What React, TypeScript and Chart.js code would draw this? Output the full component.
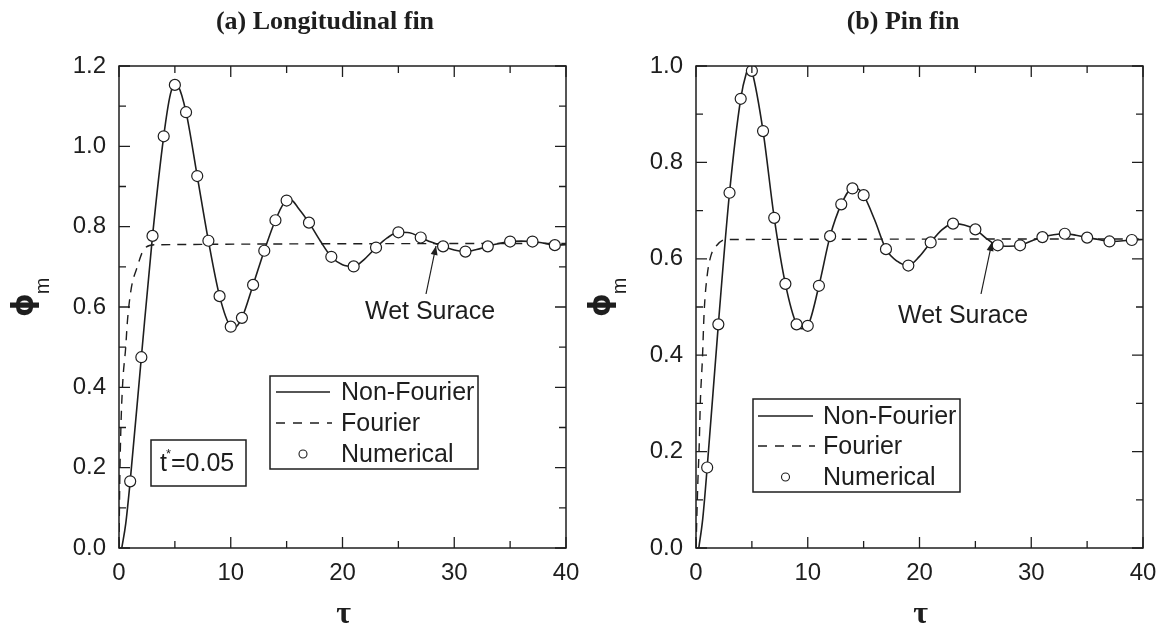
import React, { useEffect, useRef } from "react";
import { Chart, registerables } from "chart.js";

Chart.register(...registerables);

// ---------------- Data: (a) Longitudinal fin ----------------
const numTauA = [1, 2, 3, 4, 5, 6, 7, 8, 9, 10, 11, 12, 13, 14, 15, 17, 19, 21, 23, 25, 27, 29, 31, 33, 35, 37, 39];
const numPhiA = [0.166, 0.475, 0.777, 1.025, 1.153, 1.085, 0.926, 0.765, 0.627, 0.551, 0.573, 0.655, 0.74, 0.816, 0.865, 0.81, 0.725, 0.701, 0.748, 0.786, 0.773, 0.751, 0.738, 0.751, 0.763, 0.763, 0.754];

const nfTauA = [0.25, 0.6, 1, 2, 3, 4, 4.6, 5, 5.3, 6, 7, 8, 9, 10, 10.3, 11, 12, 13, 14, 15, 15.4, 16, 17, 18, 19, 20, 21, 22, 23, 24, 25, 26, 27, 28, 29, 30, 31, 32, 33, 34, 35, 36, 37, 38, 39, 40];
const nfPhiA = [0, 0.06, 0.166, 0.475, 0.777, 1.025, 1.13, 1.155, 1.15, 1.085, 0.926, 0.765, 0.627, 0.551, 0.548, 0.573, 0.655, 0.74, 0.816, 0.865, 0.866, 0.848, 0.81, 0.765, 0.725, 0.705, 0.701, 0.72, 0.748, 0.772, 0.786, 0.785, 0.773, 0.761, 0.751, 0.742, 0.738, 0.743, 0.751, 0.758, 0.763, 0.764, 0.763, 0.759, 0.754, 0.755];

const fTauA = [0, 0.07, 0.17, 0.33, 0.6, 0.76, 1.1, 1.6, 2.2, 3.2, 40];
const fPhiA = [0, 0.17, 0.3, 0.41, 0.5, 0.567, 0.647, 0.697, 0.742, 0.755, 0.758];

// ---------------- Data: (b) Pin fin ----------------
const numTauB = [1, 2, 3, 4, 5, 6, 7, 8, 9, 10, 11, 12, 13, 14, 15, 17, 19, 21, 23, 25, 27, 29, 31, 33, 35, 37, 39];
const numPhiB = [0.167, 0.464, 0.737, 0.932, 0.99, 0.865, 0.685, 0.548, 0.464, 0.461, 0.544, 0.647, 0.713, 0.746, 0.732, 0.62, 0.586, 0.634, 0.673, 0.661, 0.628, 0.628, 0.645, 0.652, 0.644, 0.636, 0.639];

const nfTauB = [0.25, 0.6, 1, 2, 3, 4, 4.5, 4.8, 5, 6, 7, 8, 9, 9.5, 10, 11, 12, 13, 14, 14.5, 15, 16, 17, 18, 19, 20, 21, 22, 23, 24, 25, 26, 27, 28, 29, 30, 31, 32, 33, 34, 35, 36, 37, 38, 39, 40];
const nfPhiB = [0, 0.06, 0.167, 0.464, 0.737, 0.932, 0.985, 1.0, 0.99, 0.865, 0.685, 0.548, 0.464, 0.455, 0.461, 0.544, 0.647, 0.713, 0.746, 0.745, 0.732, 0.68, 0.62, 0.595, 0.586, 0.605, 0.634, 0.66, 0.673, 0.67, 0.661, 0.642, 0.628, 0.626, 0.628, 0.637, 0.645, 0.65, 0.652, 0.649, 0.644, 0.64, 0.636, 0.637, 0.639, 0.64];

const fTauB = [0, 0.07, 0.17, 0.27, 0.4, 0.57, 0.73, 1.0, 1.33, 1.83, 2.67, 40];
const fPhiB = [0, 0.06, 0.14, 0.2, 0.31, 0.39, 0.49, 0.565, 0.606, 0.627, 0.64, 0.641];

// ---------------- Labels ----------------
const seriesLabels = ["Non-Fourier", "Fourier", "Numerical"];
const titleA = "(a) Longitudinal fin";
const titleB = "(b) Pin fin";
const annotationText = "Wet Surace";
const xTitle = "τ";
const yTitleMain = "ϕ";
const yTitleSub = "m";

const SANS = "'Liberation Sans', Arial, sans-serif";
const SERIF = "'Liberation Serif', 'Times New Roman', serif";
const INK = "#1e1e1e";
const H = 626;

function pts(xs: number[], ys: number[]) {
  return xs.map((x, i) => ({ x, y: ys[i] }));
}

type PanelCfg = {
  width: number;
  plotLeft: number;
  plotRight: number;
  plotTop: number;
  plotBottom: number;
  yMax: number;
  title: string;
  titleX: number;
  numTau: number[];
  numPhi: number[];
  nfTau: number[];
  nfPhi: number[];
  fTau: number[];
  fPhi: number[];
  legend: { x0: number; y0: number; x1: number; y1: number; rows: number[]; lx0: number; lx1: number; tx: number };
  wet: { tx: number; ty: number; ax0: number; ay0: number; ax1: number; ay1: number };
  tstar?: { x0: number; y0: number; x1: number; y1: number; tx: number };
};

const panelA: PanelCfg = {
  width: 582,
  plotLeft: 119,
  plotRight: 566,
  plotTop: 66,
  plotBottom: 548,
  yMax: 1.2,
  title: titleA,
  titleX: 325,
  numTau: numTauA,
  numPhi: numPhiA,
  nfTau: nfTauA,
  nfPhi: nfPhiA,
  fTau: fTauA,
  fPhi: fPhiA,
  legend: { x0: 270, y0: 376, x1: 478, y1: 469, rows: [392, 423, 454], lx0: 276, lx1: 330, tx: 341 },
  wet: { tx: 365, ty: 312, ax0: 426, ay0: 294, ax1: 436, ay1: 246 },
  tstar: { x0: 151, y0: 440, x1: 246, y1: 486, tx: 160 },
};

const panelB: PanelCfg = {
  width: 583,
  plotLeft: 114,
  plotRight: 561,
  plotTop: 66,
  plotBottom: 548,
  yMax: 1.0,
  title: titleB,
  titleX: 321,
  numTau: numTauB,
  numPhi: numPhiB,
  nfTau: nfTauB,
  nfPhi: nfPhiB,
  fTau: fTauB,
  fPhi: fPhiB,
  legend: { x0: 171, y0: 399, x1: 378, y1: 492, rows: [416, 446, 477], lx0: 176, lx1: 231, tx: 241 },
  wet: { tx: 316, ty: 316, ax0: 399, ay0: 294, ax1: 410, ay1: 242 },
};

function makeDecor(cfg: PanelCfg) {
  return {
    id: "decor",
    afterDraw(chart: any) {
      const ctx = chart.ctx as CanvasRenderingContext2D;
      const xs = chart.scales.x;
      const ys = chart.scales.y;
      const { left, right, top, bottom } = chart.chartArea;
      ctx.save();
      ctx.strokeStyle = INK;
      ctx.fillStyle = INK;
      // frame
      ctx.lineWidth = 1.5;
      ctx.strokeRect(left, top, right - left, bottom - top);
      // inward ticks
      ctx.lineWidth = 1.3;
      for (let v = 0; v <= 40; v += 5) {
        const px = xs.getPixelForValue(v);
        const len = v % 10 === 0 ? 11 : 7;
        ctx.beginPath();
        ctx.moveTo(px, bottom);
        ctx.lineTo(px, bottom - len);
        ctx.moveTo(px, top);
        ctx.lineTo(px, top + len);
        ctx.stroke();
      }
      for (let i = 0; i <= Math.round(cfg.yMax * 10); i++) {
        const v = i / 10;
        const py = ys.getPixelForValue(v);
        const len = i % 2 === 0 ? 11 : 7;
        ctx.beginPath();
        ctx.moveTo(left, py);
        ctx.lineTo(left + len, py);
        ctx.moveTo(right, py);
        ctx.lineTo(right - len, py);
        ctx.stroke();
      }
      // title
      ctx.font = `bold 26px ${SERIF}`;
      ctx.textAlign = "center";
      ctx.textBaseline = "middle";
      ctx.fillText(cfg.title, cfg.titleX, 22);
      // x title
      ctx.font = `bold 32px ${SERIF}`;
      ctx.fillText(xTitle, (left + right) / 2 + 1, 615);
      // y title (rotated)
      ctx.save();
      ctx.translate(left - 94, 305);
      ctx.rotate(-Math.PI / 2);
      ctx.font = `bold 30px 'DejaVu Sans', ${SANS}`;
      ctx.textAlign = "center";
      ctx.textBaseline = "middle";
      ctx.fillText(yTitleMain, 0, 0);
      ctx.font = `20px ${SANS}`;
      ctx.fillText(yTitleSub, 19, 18);
      ctx.restore();

      // legend
      const lg = cfg.legend;
      ctx.lineWidth = 1.5;
      ctx.strokeRect(lg.x0, lg.y0, lg.x1 - lg.x0, lg.y1 - lg.y0);
      ctx.font = `25px ${SANS}`;
      ctx.textAlign = "left";
      ctx.textBaseline = "middle";
      // solid
      ctx.lineWidth = 1.5;
      ctx.beginPath();
      ctx.moveTo(lg.lx0, lg.rows[0]);
      ctx.lineTo(lg.lx1, lg.rows[0]);
      ctx.stroke();
      // dashed
      ctx.setLineDash([9, 8]);
      ctx.beginPath();
      ctx.moveTo(lg.lx0, lg.rows[1]);
      ctx.lineTo(lg.lx1 + 2, lg.rows[1]);
      ctx.stroke();
      ctx.setLineDash([]);
      // marker
      ctx.lineWidth = 1.1;
      ctx.beginPath();
      ctx.arc((lg.lx0 + lg.lx1) / 2, lg.rows[2], 4, 0, Math.PI * 2);
      ctx.fillStyle = "#fff";
      ctx.fill();
      ctx.stroke();
      ctx.fillStyle = INK;
      for (let i = 0; i < 3; i++) ctx.fillText(seriesLabels[i], lg.tx, lg.rows[i] + 1);

      // Wet surface annotation
      const w = cfg.wet;
      ctx.fillText(annotationText, w.tx, w.ty);
      ctx.lineWidth = 1.2;
      ctx.beginPath();
      ctx.moveTo(w.ax0, w.ay0);
      ctx.lineTo(w.ax1, w.ay1);
      ctx.stroke();
      const ang = Math.atan2(w.ay1 - w.ay0, w.ax1 - w.ax0);
      const hl = 9;
      const hw = 3.5;
      ctx.beginPath();
      ctx.moveTo(w.ax1, w.ay1);
      ctx.lineTo(w.ax1 - hl * Math.cos(ang) + hw * Math.sin(ang), w.ay1 - hl * Math.sin(ang) - hw * Math.cos(ang));
      ctx.lineTo(w.ax1 - hl * Math.cos(ang) - hw * Math.sin(ang), w.ay1 - hl * Math.sin(ang) + hw * Math.cos(ang));
      ctx.closePath();
      ctx.fill();

      // t* box
      if (cfg.tstar) {
        const t = cfg.tstar;
        ctx.lineWidth = 1.5;
        ctx.strokeRect(t.x0, t.y0, t.x1 - t.x0, t.y1 - t.y0);
        const cy = (t.y0 + t.y1) / 2 + 1;
        ctx.font = `25px ${SANS}`;
        ctx.fillText("t", t.tx, cy);
        const tw = ctx.measureText("t").width;
        ctx.font = `13px ${SANS}`;
        ctx.fillText("*", t.tx + tw - 1, cy - 10);
        ctx.font = `25px ${SANS}`;
        ctx.fillText("=0.05", t.tx + tw + 4, cy);
      }
      ctx.restore();
    },
  };
}

function Panel({ cfg }: { cfg: PanelCfg }) {
  const ref = useRef<HTMLCanvasElement | null>(null);
  useEffect(() => {
    if (!ref.current) return;
    const chart = new Chart(ref.current, {
      type: "scatter",
      data: {
        datasets: [
          {
            label: seriesLabels[2],
            data: pts(cfg.numTau, cfg.numPhi),
            showLine: false,
            pointStyle: "circle",
            pointRadius: 5.5,
            pointBackgroundColor: "#ffffff",
            pointBorderColor: INK,
            pointBorderWidth: 1.2,
            order: 0,
          } as any,
          {
            label: seriesLabels[0],
            data: pts(cfg.nfTau, cfg.nfPhi),
            showLine: true,
            pointRadius: 0,
            borderColor: INK,
            borderWidth: 1.6,
            cubicInterpolationMode: "monotone",
            order: 1,
          } as any,
          {
            label: seriesLabels[1],
            data: pts(cfg.fTau, cfg.fPhi),
            showLine: true,
            pointRadius: 0,
            borderColor: INK,
            borderWidth: 1.4,
            borderDash: [9, 7],
            cubicInterpolationMode: "monotone",
            order: 2,
          } as any,
        ],
      },
      options: {
        responsive: false,
        animation: false,
        devicePixelRatio: 1,
        layout: {
          padding: { top: cfg.plotTop, right: cfg.width - cfg.plotRight, left: 0, bottom: 0 },
        },
        plugins: {
          legend: { display: false },
          tooltip: { enabled: false },
          title: { display: false },
        },
        scales: {
          x: {
            type: "linear",
            min: 0,
            max: 40,
            grid: { display: false, drawTicks: false },
            border: { display: false },
            ticks: {
              stepSize: 10,
              padding: 11,
              maxRotation: 0,
              color: INK,
              font: { family: SANS, size: 24 },
            },
            afterFit: (s: any) => {
              s.height = H - cfg.plotBottom;
              s.paddingLeft = 0;
              s.paddingRight = 0;
            },
          },
          y: {
            type: "linear",
            min: 0,
            max: cfg.yMax,
            grid: { display: false, drawTicks: false },
            border: { display: false },
            ticks: {
              stepSize: 0.2,
              padding: 13,
              color: INK,
              font: { family: SANS, size: 24 },
              callback: (v: any) => Number(v).toFixed(1),
            },
            afterFit: (s: any) => {
              s.width = cfg.plotLeft;
              s.paddingTop = 0;
              s.paddingBottom = 0;
            },
          },
        },
      } as any,
      plugins: [makeDecor(cfg)],
    });
    return () => chart.destroy();
  }, [cfg]);
  return <canvas ref={ref} width={cfg.width} height={H} style={{ display: "block", width: cfg.width, height: H }} />;
}

export default function App() {
  return (
    <div style={{ position: "absolute", left: 0, top: 0, width: 1165, height: H, background: "#fff", display: "flex" }}>
      <Panel cfg={panelA} />
      <Panel cfg={panelB} />
    </div>
  );
}
